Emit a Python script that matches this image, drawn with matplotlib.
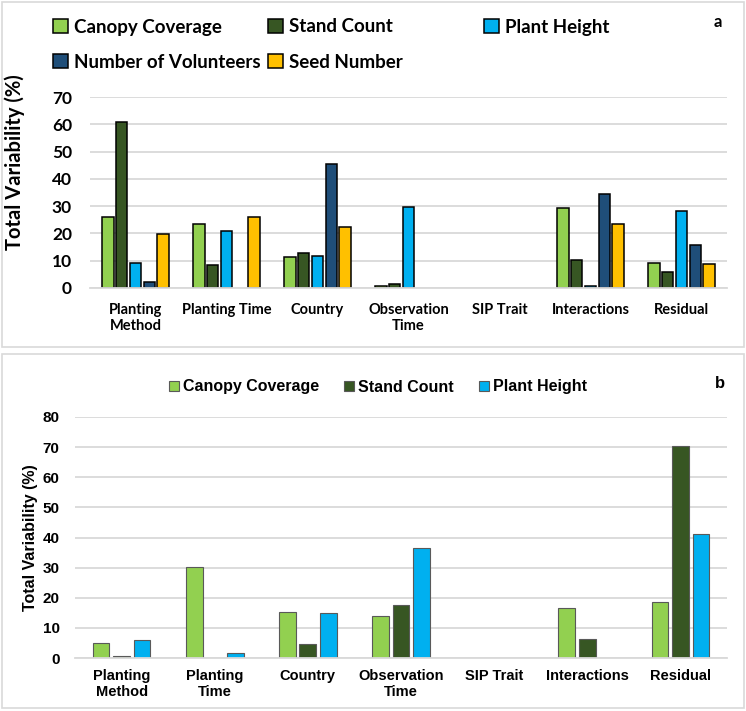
import numpy as np
import matplotlib.pyplot as plt
from matplotlib.patches import Rectangle, Patch

# ---- data ----
factors_a = ["Planting\nMethod", "Planting Time", "Country", "Observation\nTime",
             "SIP Trait", "Interactions", "Residual"]
factors_b = ["Planting\nMethod", "Planting\nTime", "Country", "Observation\nTime",
             "SIP Trait", "Interactions", "Residual"]

canopy_a     = [26.0, 23.4, 11.5, 0.8, 0, 29.5, 9.2]
stand_a      = [61.0, 8.4, 12.8, 1.6, 0, 10.3, 5.7]
height_a     = [9.2, 20.9, 11.8, 29.6, 0, 0.6, 28.1]
volunteers_a = [2.3, 0, 45.5, 0, 0, 34.5, 15.6]
seed_a       = [19.7, 26.0, 22.5, 0, 0, 23.4, 8.9]

canopy_b = [5.0, 30.2, 15.4, 14.0, 0, 16.5, 18.6]
stand_b  = [0.7, 0, 4.8, 17.5, 0, 6.4, 70.5]
height_b = [6.0, 1.6, 14.8, 36.6, 0, 0, 41.0]

labels_a = ["Canopy Coverage", "Stand Count", "Plant Height", "Number of Volunteers", "Seed Number"]
labels_b = ["Canopy Coverage", "Stand Count", "Plant Height"]
colors = ["#92D050", "#375623", "#00B0F0", "#1F4E79", "#FFC000"]

W, H = 746, 711
fig = plt.figure(figsize=(W / 100, H / 100), dpi=100)

def px_box(x0, y0, x1, y1):
    return (x0 / W, 1 - y1 / H, (x1 - x0) / W, (y1 - y0) / H)

# panel frames
for y0, y1 in [(2, 347), (354, 708)]:
    fig.patches.append(Rectangle((2 / W, 1 - y1 / H), 742 / W, (y1 - y0) / H,
                                 transform=fig.transFigure, fill=False,
                                 edgecolor="#D9D9D9", linewidth=1.2))

def style_axes(ax, ymax, fam, tick_fs):
    ax.set_ylim(0, ymax)
    ax.set_xlim(-0.5, 6.5)
    ax.set_yticks(np.arange(0, ymax + 1, 10))
    ax.yaxis.grid(True, color="#D9D9D9", linewidth=1.3)
    ax.set_axisbelow(True)
    for s in ["top", "right", "left"]:
        ax.spines[s].set_visible(False)
    ax.spines["bottom"].set_color("#D9D9D9")
    ax.spines["bottom"].set_linewidth(1.3)
    ax.tick_params(axis="both", length=0)
    for t in ax.get_yticklabels():
        t.set_fontfamily(fam); t.set_fontweight("bold"); t.set_fontsize(tick_fs)

# ---- panel a ----
fa = "Lato"
ax1 = fig.add_axes(px_box(90, 97, 727, 288))
series_a = [canopy_a, stand_a, height_a, volunteers_a, seed_a]
x = np.arange(len(factors_a))
stride, bw = 0.152, 0.125
for i, vals in enumerate(series_a):
    vals = np.array(vals)
    ec = ["black" if v > 0 else "none" for v in vals]
    ax1.bar(x + (i - 2) * stride, vals, bw, color=colors[i], edgecolor=ec, linewidth=1.1)
style_axes(ax1, 70, fa, 12.5)
ax1.set_xticks(x)
ax1.set_xticklabels(factors_a, fontfamily=fa, fontweight="bold", fontsize=10.5)
ax1.tick_params(axis="x", pad=11)
ax1.tick_params(axis="y", pad=13)
ax1.set_ylabel("Total Variability (%)", fontfamily=fa, fontweight="bold", fontsize=14.5)
ax1.yaxis.set_label_coords(-0.102, 0.66)

# legend a: equal-width columns like Excel
leg_pos = [(53, 27), (268, 27), (484, 27), (53, 62), (268, 62)]
for i, lab in enumerate(labels_a):
    fig.legend(handles=[Patch(facecolor=colors[i], edgecolor="black", linewidth=1.1)],
               labels=[lab], loc="center left",
               bbox_to_anchor=(leg_pos[i][0] / W, 1 - leg_pos[i][1] / H),
               frameon=False, handlelength=0.8, handleheight=0.8, handletextpad=0.3,
               borderaxespad=0, borderpad=0,
               prop={"family": fa, "weight": "bold", "size": 13.5})
fig.text(718 / W, 1 - 22 / H, "a", fontfamily=fa, fontweight="bold", fontsize=12,
         ha="center", va="center")

# ---- panel b ----
fb = "Liberation Sans"
ax2 = fig.add_axes(px_box(75, 417, 727, 658))
series_b = [canopy_b, stand_b, height_b]
stride, bw = 0.22, 0.18
for i, vals in enumerate(series_b):
    vals = np.array(vals)
    ec = ["#595959" if v > 0 else "none" for v in vals]
    ax2.bar(x + (i - 1) * stride, vals, bw, color=colors[i], edgecolor=ec, linewidth=0.8)
style_axes(ax2, 80, fb, 11)
ax2.set_xticks(x)
ax2.set_xticklabels(factors_b, fontfamily=fb, fontweight="bold", fontsize=10.5)
ax2.tick_params(axis="x", pad=8)
ax2.tick_params(axis="y", pad=11)
ax2.set_ylabel("Total Variability (%)", fontfamily=fb, fontweight="bold", fontsize=11.5)
ax2.yaxis.set_label_coords(-0.057, 0.5)

fig.legend(handles=[Patch(facecolor=colors[i], edgecolor="#595959", linewidth=0.8) for i in range(3)],
           labels=labels_b, loc="center", ncol=3,
           bbox_to_anchor=(378 / W, 1 - 387 / H), frameon=False,
           handlelength=0.6, handleheight=0.6, handletextpad=0.25, columnspacing=1.6,
           borderaxespad=0, borderpad=0,
           prop={"family": fb, "weight": "bold", "size": 11.5})
fig.text(720 / W, 1 - 383 / H, "b", fontfamily=fb, fontweight="bold", fontsize=12,
         ha="center", va="center")

fig.savefig("out.png", dpi=100)
